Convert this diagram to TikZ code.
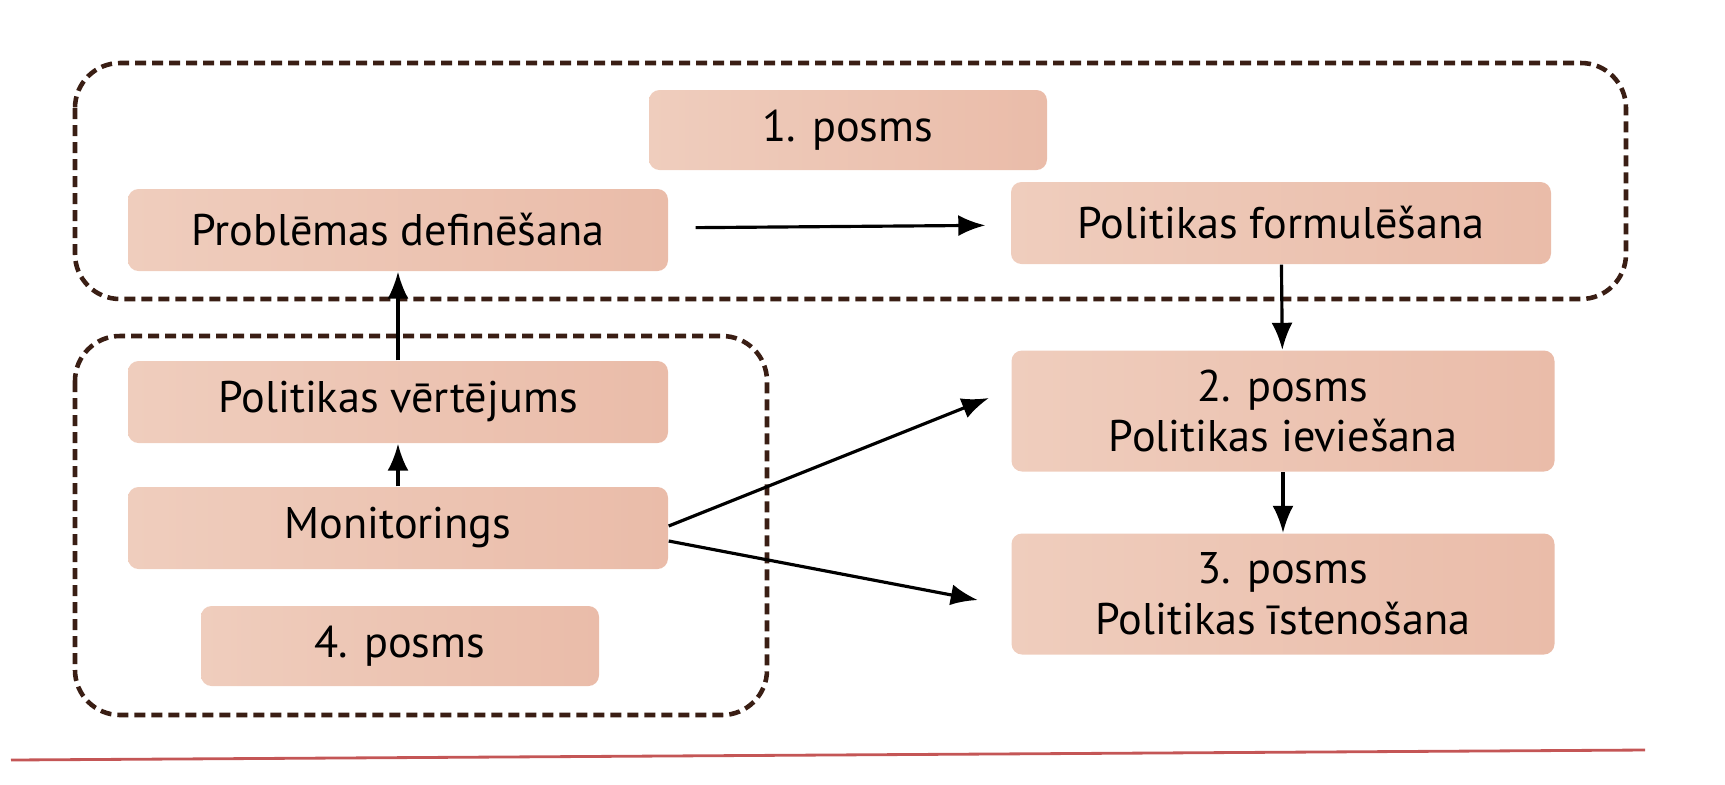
\documentclass[tikz,border=0pt]{standalone}
\usepackage{fontspec}
\setmainfont{PT Sans}
\usepackage{tikz}
\usetikzlibrary{arrows.meta,calc}
\definecolor{peachL}{RGB}{239,205,189}
\definecolor{peachR}{RGB}{234,188,169}
\definecolor{framebrown}{RGB}{58,30,20}
\definecolor{rulered}{RGB}{196,86,86}

\begin{document}
\begin{tikzpicture}
\tikzstyle{main}=[rectangle, rounded corners=3pt, left color=peachL, right color=peachR, minimum width=5.40cm, minimum height=0.82cm, inner sep=0pt, align=center, font=\fontsize{12.6}{14.5}\selectfont]
\tikzstyle{stage}=[main, minimum width=3.98cm, minimum height=0.80cm]
\tikzstyle{tall}=[main, minimum width=5.43cm, minimum height=1.21cm]
\tikzstyle{connect}=[-{Latex[length=2.7mm, width=2.1mm]}, line width=0.9pt]
\tikzstyle{frame}=[draw=framebrown, line width=1.3pt, dash pattern=on 1.1mm off 0.6mm, rounded corners=0.45cm]

  \useasboundingbox (0,0) rectangle (17.25,-7.84);

  \draw[frame] (0.75,-0.63) rectangle (16.26,-2.99);
  \draw[frame] (0.75,-3.36) rectangle (7.67,-7.15);

  \node[stage] (p1) at (8.48,-1.30) {1. posms};
  \node[main]  (def) at (3.98,-2.30) {Problēmas definēšana};
  \node[main]  (form) [right of =def, node distance=8.83cm, yshift=0.7mm] {Politikas formulēšana};
  \node[main]  (vert) [below of =def, node distance=1.72cm] {Politikas vērtējums};
  \node[main]  (mon)  [below of =vert, node distance=1.26cm] {Monitorings};
  \node[stage] (p4)   [below of =mon, node distance=1.18cm, xshift=0.2mm] {4. posms};
  \node[tall]  (ievi) [below of =form, node distance=1.88cm, xshift=0.2mm] {2. posms\\Politikas ieviešana};
  \node[tall]  (iste) [below of =ievi, node distance=1.83cm] {3. posms\\Politikas īstenošana};

  \path (def) edge [connect, shorten <=2.7mm, shorten >=2.5mm] (form)
        (mon) edge [connect] (vert)
        (vert) edge [connect] (def)
        (form) edge [connect] (ievi)
        (ievi) edge [connect] (iste)
        ($(mon.east)+(0,0.02)$) edge [connect] ($(ievi.west)+(-0.22,0.13)$)
        ($(mon.east)+(0,-0.13)$) edge [connect] ($(iste.west)+(-0.33,-0.06)$);

  \draw[rulered, line width=0.8pt] (0.11,-7.60) -- (16.45,-7.50);

\end{tikzpicture}
\end{document}
